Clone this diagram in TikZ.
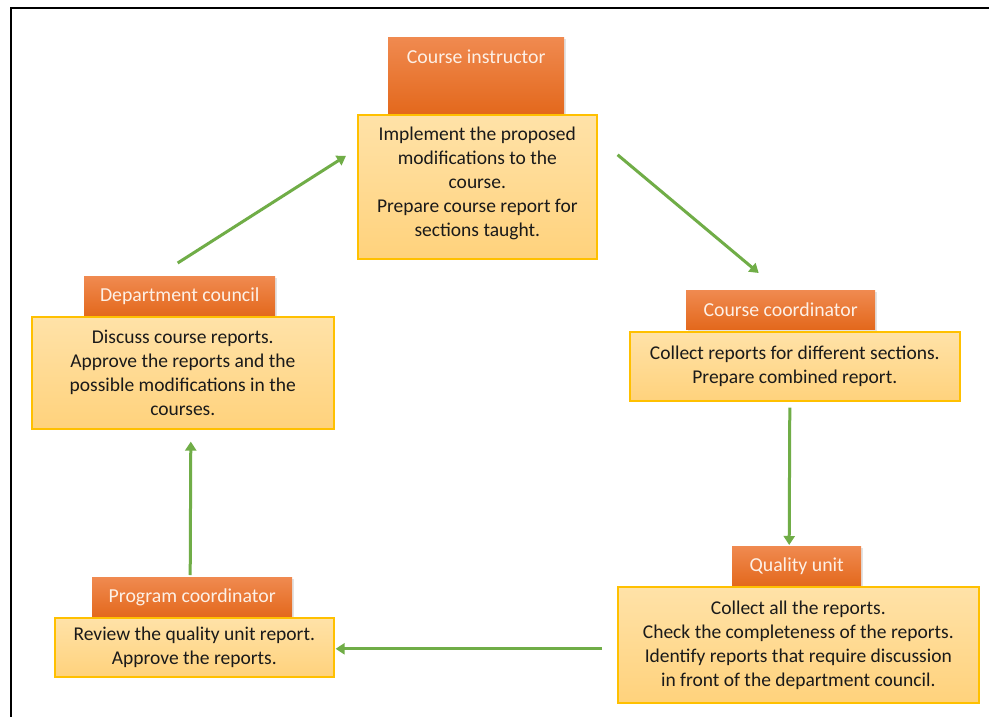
\documentclass[tikz,border=0pt]{standalone}
\usepackage{fontspec}
\setmainfont{Carlito}
\usetikzlibrary{arrows.meta,shadows}

\definecolor{hdTop}{HTML}{F08A50}
\definecolor{hdBot}{HTML}{E3681C}
\definecolor{hdText}{HTML}{FDF0E6}
\definecolor{bdTop}{HTML}{FFE2A8}
\definecolor{bdBot}{HTML}{FFD27C}
\definecolor{bdLine}{HTML}{FFC000}
\definecolor{bodyText}{HTML}{1A1A1A}
\definecolor{flowGreen}{HTML}{70AD47}

\begin{document}
\begin{tikzpicture}[x=1pt,y=-1pt,
  header/.style={anchor=north west, inner sep=0pt, draw=none,
    top color=hdTop, bottom color=hdBot, text=hdText,
    font=\fontsize{19.8}{24}\selectfont,
    drop shadow={shadow xshift=1.5pt, shadow yshift=-1.5pt, opacity=0.22}},
  bodybox/.style={anchor=north west, inner sep=0pt, draw=bdLine, line width=1.6pt,
    top color=bdTop, bottom color=bdBot, text=bodyText, align=center,
    font=\fontsize{19.5}{24}\selectfont},
  flow/.style={draw=flowGreen, line width=3pt, -{Triangle[width=11pt,length=9pt]}}
]
\useasboundingbox (0,0) rectangle (989,717);
\fill[white] (0,0) rectangle (989,717);

% outer frame
\draw[line width=1.4pt] (11,717) -- (11,8) -- (989,8);

% role headers
\node[header, minimum width=176pt, text height=26pt, text depth=51pt] (cih) at (388,37) {Course instructor};
\node[header, minimum width=191pt, minimum height=40pt] (dch) at (84,276) {Department council};
\node[header, minimum width=189pt, minimum height=39pt] (cch) at (686,290) {Course coordinator};
\node[header, minimum width=129pt, minimum height=40pt] (quh) at (732,546) {Quality unit};
\node[header, minimum width=200pt, minimum height=40pt] (pch) at (92,577) {Program coordinator};

% task descriptions
\node[bodybox, minimum width=239pt, minimum height=144pt] (cib) at (357,114)
  {Implement the proposed\\modifications to the\\course.\\Prepare course report for\\sections taught.\\[-13pt]};
\node[bodybox, minimum width=302pt, minimum height=112pt] (dcb) at (31,316)
  {Discuss course reports.\\Approve the reports and the\\possible modifications in the\\courses.};
\node[bodybox, minimum width=330pt, minimum height=69pt] (ccb) at (629,331)
  {Collect reports for different sections.\\Prepare combined report.};
\node[bodybox, minimum width=361pt, minimum height=116pt] (qub) at (617,586)
  {Collect all the reports.\\Check the completeness of the reports.\\Identify reports that require discussion\\in front of the department council.};
\node[bodybox, minimum width=279pt, minimum height=59pt] (pcb) at (54,617)
  {Review the quality unit report.\\Approve the reports.};

% workflow arrows
\draw[flow] ([shift={(-2,-13)}]dch.north) -- ([shift={(-11,-31)}]cib.west);
\draw[flow] ([shift={(20,-32)}]cib.east) -- ([shift={(-22,-17)}]cch.north);
\draw[flow] ([shift={(-5,6)}]ccb.south) -- ([shift={(-7.5,-1)}]quh.north);
\draw[flow] ([shift={(-15,4)}]qub.west) -- ([shift={(1,1.5)}]pcb.east);
\draw[flow] ([shift={(-2,-2)}]pch.north) -- ([shift={(8,12)}]dcb.south);
\end{tikzpicture}
\end{document}
